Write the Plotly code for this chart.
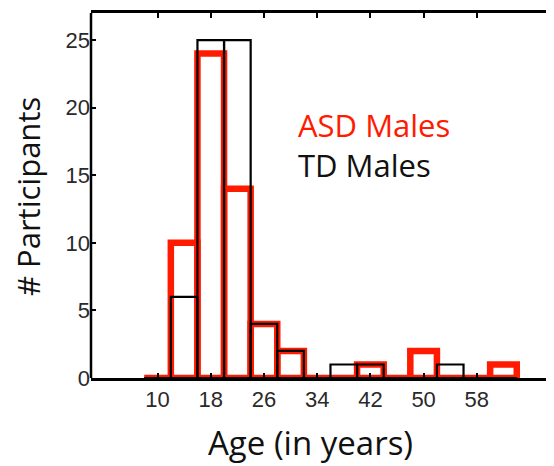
import plotly.graph_objects as go

age_bins = [10, 14, 18, 22, 26, 30, 34, 38, 42, 46, 50, 54, 58, 62]
asd_males = [0, 10, 24, 14, 4, 2, 0, 0, 1, 0, 2, 0, 0, 1]
td_males = [0, 6, 25, 25, 4, 2, 0, 1, 1, 0, 0, 1, 0, 0]
x_ticks = [10, 18, 26, 34, 42, 50, 58]
y_ticks = [0, 5, 10, 15, 20, 25]

OFF = 8  # page body margin
W, H = 554 - OFF, 466 - OFF
L, R, T, B = 91 - OFF, 0, 13 - OFF, 88

fig = go.Figure()
fig.add_trace(go.Bar(x=age_bins, y=asd_males, width=4, name="ASD Males",
                     marker=dict(color="rgba(0,0,0,0)", line=dict(color="#ff1a00", width=6.5))))
fig.add_trace(go.Bar(x=age_bins, y=td_males, width=4, name="TD Males",
                     marker=dict(color="rgba(0,0,0,0)", line=dict(color="black", width=2.2))))

tickfont = dict(family="Liberation Sans, Arial", size=22, color="#2a2a2a")
fig.update_layout(
    width=W, height=H, margin=dict(l=L, r=R, t=T, b=B, autoexpand=False),
    paper_bgcolor="white", plot_bgcolor="white",
    barmode="overlay", showlegend=False,
    xaxis=dict(range=[0, 69.6], tickvals=x_ticks, ticks="inside", ticklen=5, tickwidth=2,
               tickcolor="black", showline=True, linecolor="black", linewidth=2.5,
               mirror="ticks", showgrid=False, zeroline=False, tickfont=tickfont,
               automargin=False),
    yaxis=dict(range=[0, 27], tickvals=y_ticks, ticks="inside", ticklen=5, tickwidth=2,
               tickcolor="black", showline=False, mirror="ticks",
               showgrid=False, zeroline=False, tickfont=tickfont, automargin=False),
)
# left axis line
fig.add_shape(type="line", xref="paper", yref="paper", x0=0, x1=0, y0=0, y1=1,
              line=dict(color="black", width=2.5))

pw = W - L - R
ph = H - T - B
def px(xs): return (xs - OFF - L) / pw
def py(ys): return (H - B - (ys - OFF)) / ph

fig.add_annotation(text="Age (in years)", xref="paper", yref="paper", x=px(310), y=py(442),
                   showarrow=False, xanchor="center", yanchor="middle",
                   font=dict(family="Open Sans", size=33, color="#111"))
fig.add_annotation(text="# Participants", xref="paper", yref="paper", x=px(28), y=py(197),
                   showarrow=False, xanchor="center", yanchor="middle", textangle=-90,
                   font=dict(family="Open Sans", size=31, color="#111"))
fig.add_annotation(text="ASD Males", xref="paper", yref="paper", x=px(296), y=py(125),
                   showarrow=False, xanchor="left", yanchor="middle",
                   font=dict(family="Open Sans", size=31, color="#ff1a00"))
fig.add_annotation(text="TD Males", xref="paper", yref="paper", x=px(296), y=py(165),
                   showarrow=False, xanchor="left", yanchor="middle",
                   font=dict(family="Open Sans", size=31, color="#111"))

fig.write_html("out.html")
